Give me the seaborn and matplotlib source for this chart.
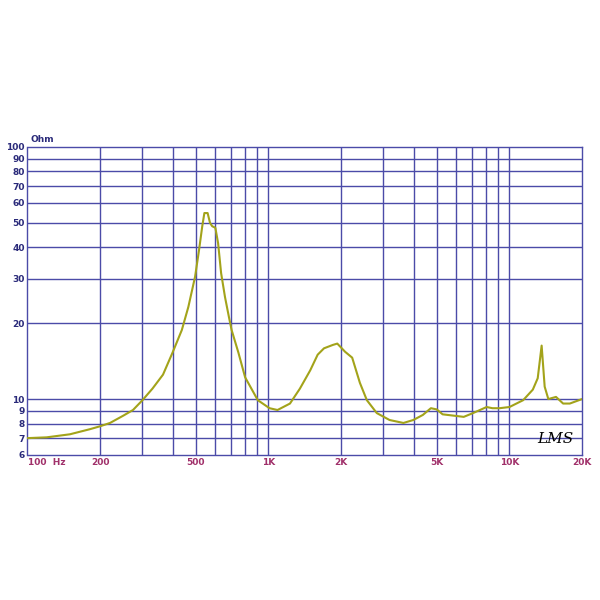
import pandas as pd
import matplotlib.pyplot as plt
import seaborn as sns

# impedance curve (Hz, Ohm)
freq = [100, 120, 150, 182, 200, 220, 250, 274, 300, 330, 365, 400, 437, 465, 496,
        515, 531, 542, 559, 572, 584, 602, 618, 636, 660, 685, 703, 750, 800, 903,
        1010, 1090, 1228, 1350, 1490, 1600, 1700, 1850, 1930, 2080, 2225, 2395, 2560,
        2815, 3180, 3630, 3990, 4370, 4720, 4990, 5280, 6460, 7062, 8040, 8500, 9100,
        10000, 11400, 12500, 13100, 13600, 14000, 14500, 15600, 16700, 17800, 20000]
ohm = [7.0, 7.05, 7.25, 7.6, 7.8, 8.04, 8.6, 9.05, 9.9, 11.0, 12.5, 15.3, 18.8, 23.2, 30.6,
       39.0, 48.4, 54.7, 54.7, 50.0, 48.5, 47.8, 41.5, 31.6, 25.4, 21.2, 18.8, 15.3, 12.2, 9.9,
       9.2, 9.05, 9.6, 11.0, 13.0, 15.0, 15.9, 16.4, 16.6, 15.4, 14.6, 11.6, 9.9,
       8.8, 8.26, 8.04, 8.26, 8.65, 9.2, 9.1, 8.7, 8.5, 8.8, 9.3, 9.2, 9.2,
       9.3, 9.9, 10.9, 12.1, 16.3, 11.2, 10.0, 10.2, 9.6, 9.6, 10.0]

x_grid = [200, 300, 400, 500, 600, 700, 800, 900, 1000, 2000, 3000, 4000, 5000,
          6000, 7000, 8000, 9000, 10000]
x_ticks = [100, 200, 500, 1000, 2000, 5000, 10000, 20000]
x_labels = ["100  Hz", "200", "500", "1K", "2K", "5K", "10K", "20K"]
y_ticks = [6, 7, 8, 9, 10, 20, 30, 40, 50, 60, 70, 80, 90, 100]

df = pd.DataFrame({"freq": freq, "ohm": ohm})

sns.set_style("white")
grid_col = "#4b4ba8"

fig = plt.figure(figsize=(6, 6), dpi=100)
ax = fig.add_axes([27.5 / 600, 145 / 600, 554.5 / 600, 308 / 600])
ax.set_xscale("log")
ax.set_yscale("log")
ax.set_xlim(100, 20000)
ax.set_ylim(6, 100)

for xv in x_grid:
    ax.axvline(xv, color=grid_col, lw=1.0, zorder=1)
for yv in y_ticks[1:-1]:
    ax.axhline(yv, color=grid_col, lw=1.0, zorder=1)

sns.lineplot(data=df, x="freq", y="ohm", ax=ax, color="#a3a31a", lw=1.5, zorder=3)

ax.set_xticks(x_ticks)
ax.set_xticklabels(x_labels, color="#a0306a", fontsize=6.5, fontweight="bold")
ax.set_xticks([], minor=True)
ax.set_yticks(y_ticks)
ax.set_yticklabels([str(v) for v in y_ticks], color="#2a2a7a", fontsize=6.5, fontweight="bold")
ax.set_yticks([], minor=True)
ax.tick_params(axis="both", length=0, pad=2)
for lab in ax.get_xticklabels():
    if lab.get_text().startswith("100"):
        lab.set_horizontalalignment("left")
ax.set_xlabel("")
ax.set_ylabel("")
for sp in ax.spines.values():
    sp.set_color(grid_col)
    sp.set_linewidth(1.0)

ax.text(0.005, 1.01, "Ohm", transform=ax.transAxes, color="#2a2a7a",
        fontsize=6.5, fontweight="bold", ha="left", va="bottom")
ax.text(0.985, 0.03, "LMS", transform=ax.transAxes, color="black",
        fontsize=11, fontstyle="italic", ha="right", va="bottom", family="DejaVu Serif")

fig.savefig("out.png", dpi=100, facecolor="white")
